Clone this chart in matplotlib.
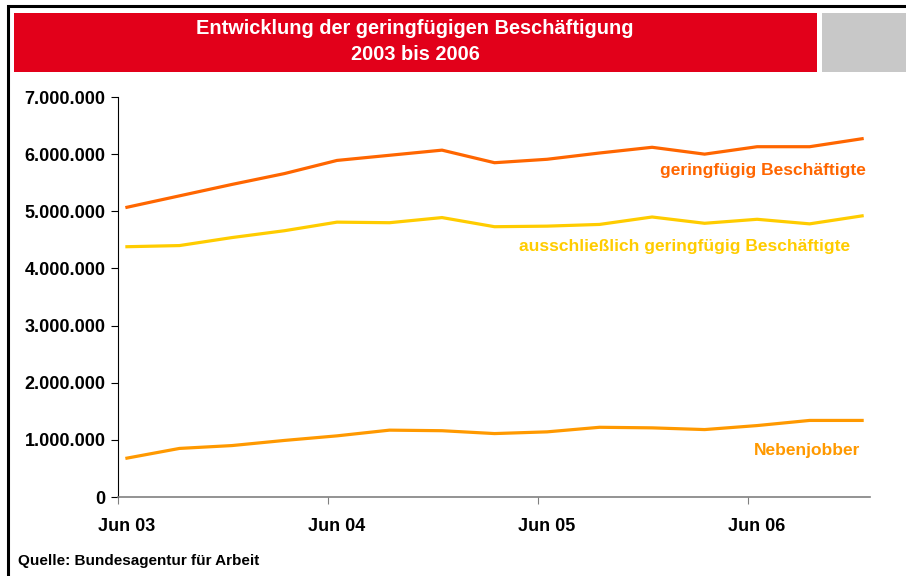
import matplotlib
matplotlib.use("Agg")
import matplotlib.pyplot as plt
from matplotlib.patches import Rectangle
from matplotlib.ticker import FuncFormatter, FixedLocator

plt.rcParams['font.family'] = ['Liberation Sans', 'DejaVu Sans']
plt.rcParams['font.weight'] = 'bold'

# Daten (Quartale Jun 03 bis Dez 06)
quartale = ["Jun 03", "Sep 03", "Dez 03", "Mär 04", "Jun 04", "Sep 04", "Dez 04", "Mär 05",
            "Jun 05", "Sep 05", "Dez 05", "Mär 06", "Jun 06", "Sep 06", "Dez 06"]
geringfuegig = [5070000, 5270000, 5470000, 5660000, 5890000, 5980000, 6070000, 5850000,
                5910000, 6020000, 6120000, 6000000, 6130000, 6130000, 6270000]
ausschliesslich = [4380000, 4400000, 4540000, 4660000, 4810000, 4800000, 4890000, 4730000,
                   4740000, 4770000, 4900000, 4790000, 4860000, 4780000, 4920000]
nebenjobber = [680000, 850000, 900000, 990000, 1070000, 1170000, 1160000, 1110000,
               1140000, 1220000, 1210000, 1180000, 1250000, 1340000, 1340000]
achsen_labels = ["Jun 03", "Jun 04", "Jun 05", "Jun 06"]

W, H = 906, 576
fig = plt.figure(figsize=(W / 100, H / 100), dpi=100)

# Rahmen und Kopfzeile
fig.patches.append(Rectangle((8 / W, -0.5), 2, 1.5 - 6 / H, transform=fig.transFigure,
                             fill=False, edgecolor='black', linewidth=2.2))
fig.patches.append(Rectangle((14 / W, 1 - 72 / H), (817 - 14) / W, 59 / H,
                             transform=fig.transFigure, facecolor='#E2001A', edgecolor='none'))
fig.patches.append(Rectangle((822 / W, 1 - 72 / H), (W - 822) / W, 59 / H,
                             transform=fig.transFigure, facecolor='#C8C8C8', edgecolor='none'))
fig.text(415 / W, 1 - 29 / H, "Entwicklung der geringfügigen Beschäftigung",
         ha='center', va='center', color='white', fontsize=14.4, fontweight='bold')
fig.text(415 / W, 1 - 54 / H, "2003 bis 2006",
         ha='center', va='center', color='white', fontsize=14.4, fontweight='bold')

ax = fig.add_axes([118 / W, 1 - 497 / H, (870 - 118) / W, 400 / H])
x = list(range(len(quartale)))
ax.plot(x, geringfuegig, color='#FF6600', linewidth=2.3, solid_joinstyle='miter')
ax.plot(x, ausschliesslich, color='#FFCC00', linewidth=2.3, solid_joinstyle='miter')
ax.plot(x, nebenjobber, color='#FF9900', linewidth=2.3, solid_joinstyle='miter')

ax.set_ylim(0, 7000000)
ax.set_xlim(-0.17, 14.15)
ax.set_yticks(range(0, 7000001, 1000000))
ax.yaxis.set_major_formatter(FuncFormatter(lambda v, p: f"{int(v):,}".replace(",", ".")))
ax.tick_params(axis='y', labelsize=13, length=5, width=0.8, color='black', pad=4)

# Striche zwischen den Kategorien, Beschriftung auf den Datenpunkten
ax.xaxis.set_major_locator(FixedLocator([-0.17, 3.83, 7.83, 11.83]))
ax.xaxis.set_minor_locator(FixedLocator([0, 4, 8, 12]))
ax.xaxis.set_major_formatter(FuncFormatter(lambda v, p: ""))
ax.set_xticklabels(achsen_labels, minor=True)
ax.tick_params(axis='x', which='major', length=5, width=0.8, color='#808080')
ax.tick_params(axis='x', which='minor', length=0, labelsize=13, pad=15)
for lab in ax.get_yticklabels() + ax.get_xticklabels(minor=True):
    lab.set_fontweight('bold')

for s in ['top', 'right']:
    ax.spines[s].set_visible(False)
ax.spines['left'].set_color('black')
ax.spines['left'].set_linewidth(0.8)
ax.spines['bottom'].set_color('#808080')
ax.spines['bottom'].set_linewidth(1.2)

ax.text(14.07, 5710000, "geringfügig Beschäftigte", ha='right', va='center',
        color='#FF6600', fontsize=12.5, fontweight='bold')
ax.text(13.77, 4380000, "ausschließlich geringfügig Beschäftigte", ha='right', va='center',
        color='#FFCC00', fontsize=12.5, fontweight='bold')
ax.text(13.97, 820000, "Nebenjobber", ha='right', va='center',
        color='#FF9900', fontsize=12.5, fontweight='bold')

fig.text(18 / W, 1 - 561 / H, "Quelle: Bundesagentur für Arbeit", ha='left', va='center',
         fontsize=11, fontweight='bold')

fig.savefig("out.png", dpi=100)
